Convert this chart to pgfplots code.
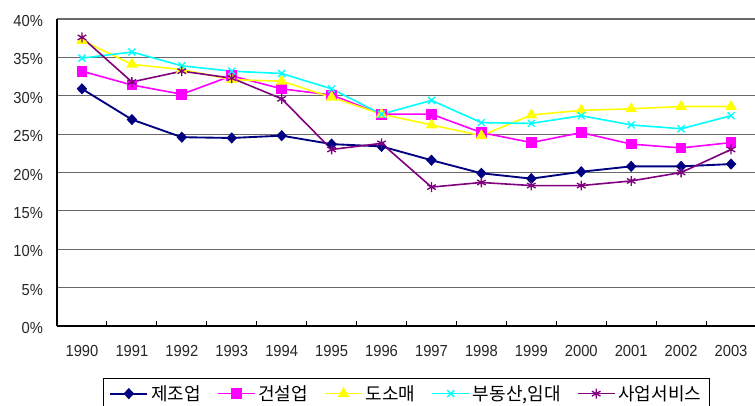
\documentclass[border=0pt]{standalone}
\usepackage{pgfplots}
\pgfplotsset{compat=1.18}
\usepackage{fontspec}
\setmainfont{Liberation Sans}
\newfontfamily\tickfont[FakeStretch=0.92]{Liberation Sans}
\newfontfamily\kofont{Noto Sans CJK KR}
\definecolor{cnavy}{RGB}{0,0,128}
\definecolor{cmag}{RGB}{255,0,255}
\definecolor{cyel}{RGB}{255,255,0}
\definecolor{ccyan}{RGB}{0,255,255}
\definecolor{cpurp}{RGB}{128,0,128}
\definecolor{cgrid}{RGB}{105,105,105}
\begin{document}
\begin{tikzpicture}
\begin{axis}[
  scale only axis,
  width=524.25pt, height=230.25pt,
  xmin=-0.5, xmax=13.5, ymin=0, ymax=40,
  axis lines*=left,
  axis line style={black, line width=1.1pt, -},
  xtick={0,...,13},
  xticklabels={1990,1991,1992,1993,1994,1995,1996,1997,1998,1999,2000,2001,2002,2003},
  major x tick style={draw=none},
  minor xtick={0.5,1.5,...,12.5},
  minor x tick style={black, line width=0.8pt},
  minor tick length=4pt,
  tick align=inside,
  ytick={0,5,...,40},
  yticklabels={0\%,5\%,10\%,15\%,20\%,25\%,30\%,35\%,40\%},
  ytick style={draw=none},
  ymajorgrids,
  grid style={cgrid, line width=0.8pt},
  ticklabel style={font=\tickfont\fontsize{12pt}{14pt}\selectfont, text=black!85},
  xticklabel style={yshift=-11pt},
  yticklabel style={xshift=-7pt, yshift=-1.5pt},
  clip=false,
  legend columns=5,
  legend style={
    at={([yshift=-39pt]axis description cs:0.5,0)}, anchor=north,
    draw=black, line width=0.75pt, inner xsep=4pt, inner ysep=3pt,
    font=\kofont\fontsize{13.5pt}{15pt}\selectfont,
    /tikz/every even column/.append style={column sep=10pt},
    nodes={inner xsep=2pt, inner ysep=2pt},
  },
  legend image code/.code={\draw[mark repeat=2,mark phase=2] plot coordinates {(0pt,0pt)(14pt,0pt)(28pt,0pt)};},
]
\addplot[cnavy, line width=1.4pt, mark=diamond*, mark size=3.2pt, mark options={solid, xscale=1.25, fill=cnavy}]
coordinates {(0,30.9)(1,26.9)(2,24.6)(3,24.5)(4,24.8)(5,23.7)(6,23.4)(7,21.6)(8,19.9)(9,19.2)(10,20.1)(11,20.8)(12,20.8)(13,21.1)};
\addlegendentry{제조업}
\addplot[cmag, line width=1.2pt, mark=square*, mark size=3.4pt, mark options={solid, fill=cmag}]
coordinates {(0,33.2)(1,31.4)(2,30.2)(3,32.6)(4,30.9)(5,30.1)(6,27.6)(7,27.6)(8,25.2)(9,23.9)(10,25.2)(11,23.7)(12,23.2)(13,23.9)};
\addlegendentry{건설업}
\addplot[cyel, line width=1.2pt, mark=triangle*, mark size=3.8pt, mark options={solid, fill=cyel}]
coordinates {(0,37.2)(1,34.1)(2,33.4)(3,32.1)(4,31.9)(5,29.8)(6,27.6)(7,26.2)(8,24.8)(9,27.5)(10,28.1)(11,28.3)(12,28.6)(13,28.6)};
\addlegendentry{도소매}
\addplot[ccyan, line width=1.2pt, mark=x, mark size=3.7pt, mark options={solid, line width=1pt}]
coordinates {(0,34.9)(1,35.7)(2,33.9)(3,33.2)(4,32.9)(5,30.9)(6,27.6)(7,29.4)(8,26.5)(9,26.4)(10,27.4)(11,26.2)(12,25.7)(13,27.4)};
\addlegendentry{부동산,임대}
\addplot[cpurp, line width=1.2pt, mark=asterisk, mark size=3.7pt, mark options={solid, line width=1pt}]
coordinates {(0,37.6)(1,31.8)(2,33.2)(3,32.3)(4,29.6)(5,23.0)(6,23.8)(7,18.1)(8,18.7)(9,18.3)(10,18.3)(11,18.9)(12,20.0)(13,23.0)};
\addlegendentry{사업서비스}
\end{axis}
\pgfresetboundingbox
\useasboundingbox (-42.75pt,-59.25pt) rectangle (523.5pt,244.5pt);
\end{tikzpicture}
\end{document}
